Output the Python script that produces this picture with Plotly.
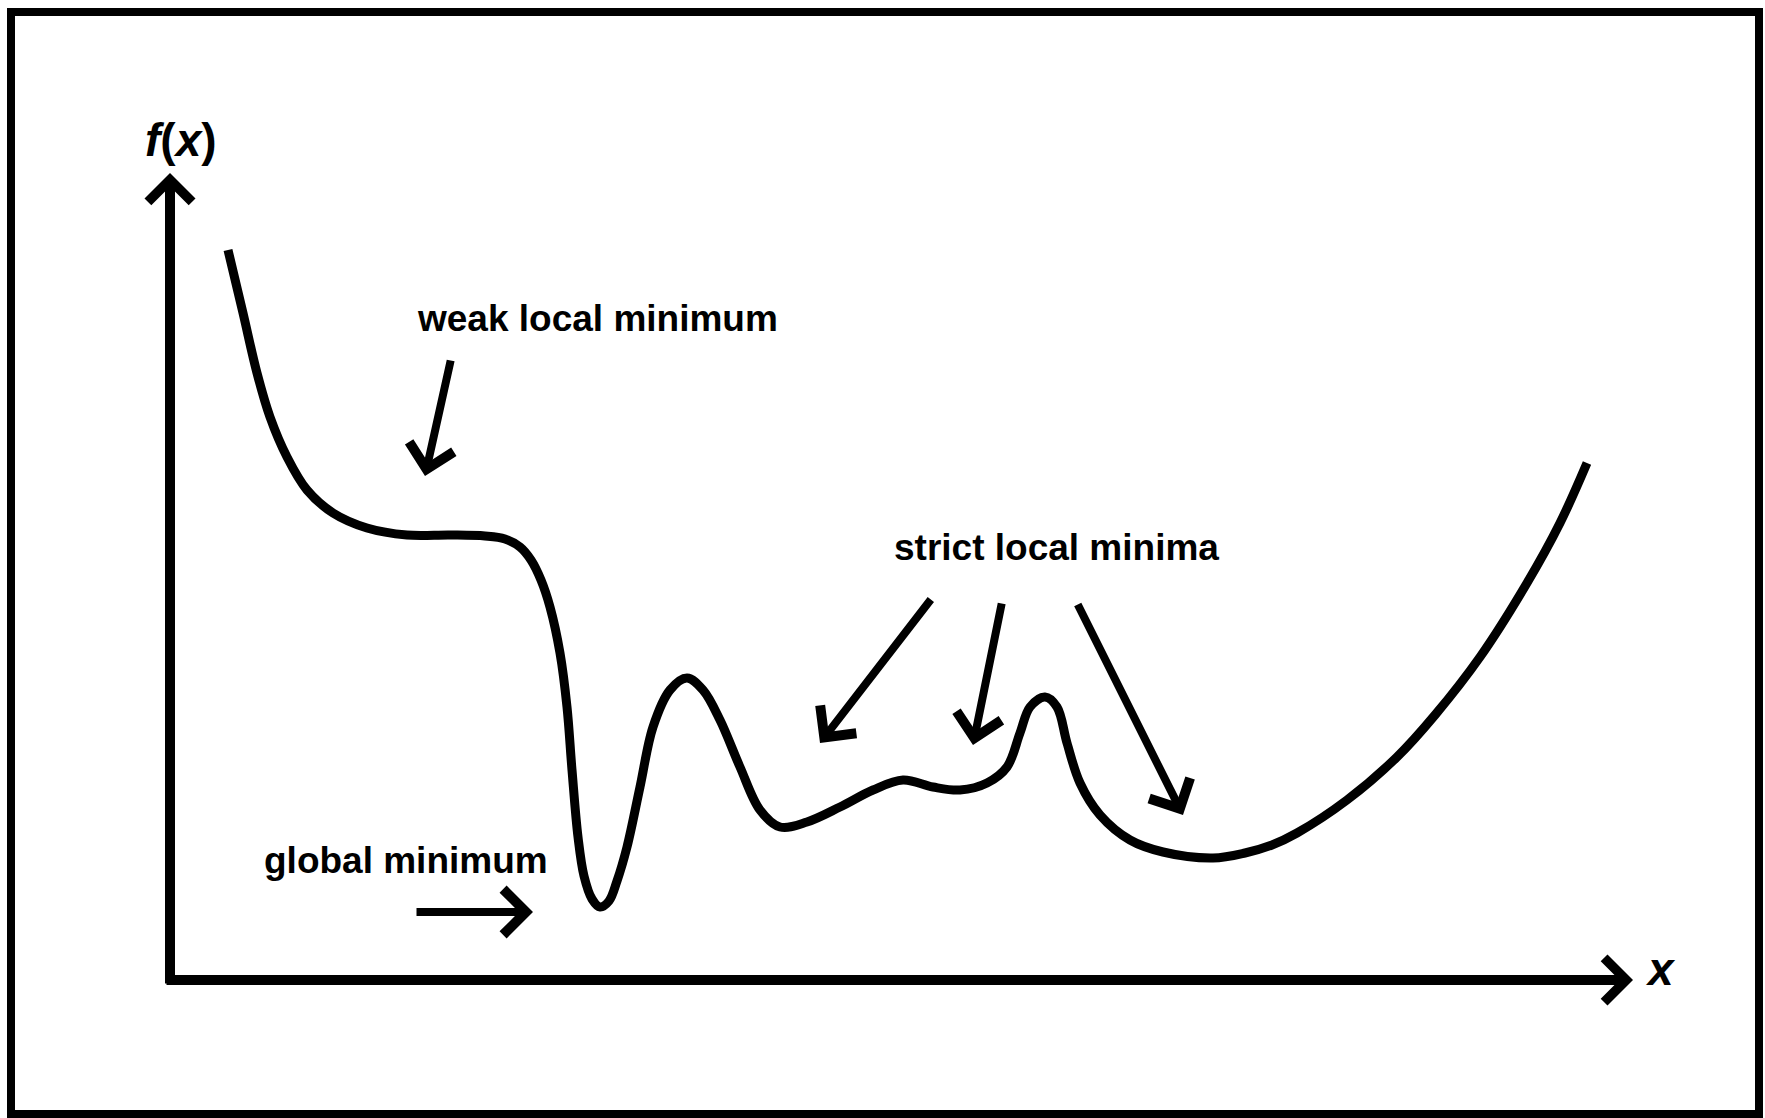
import plotly.graph_objects as go

# curve f(x) (conceptual units: origin at the axes corner)
x_vals = [0.58, 0.73, 0.87, 1.00, 1.17, 1.37, 1.63, 1.97, 2.37, 2.80, 3.15, 3.35, 3.50, 3.61,
          3.71, 3.80, 3.90, 3.97, 4.02, 4.08, 4.14, 4.22, 4.30, 4.39, 4.47, 4.57, 4.70, 4.83,
          5.00, 5.17, 5.33, 5.50, 5.70, 5.90, 6.10, 6.37, 6.70, 7.03, 7.33, 7.63, 7.90, 8.17,
          8.37, 8.50, 8.60, 8.75, 8.87, 8.97, 9.10, 9.30, 9.60, 9.93, 10.43, 10.75, 11.02,
          11.27, 11.77, 12.27, 12.65, 13.10, 13.57, 13.90, 14.17]
f_vals = [7.30, 6.67, 6.07, 5.63, 5.23, 4.90, 4.67, 4.52, 4.45, 4.45, 4.44, 4.41, 4.33, 4.20,
          4.00, 3.73, 3.27, 2.73, 2.10, 1.43, 1.04, 0.81, 0.73, 0.79, 0.99, 1.33, 1.93, 2.53,
          2.90, 3.02, 2.90, 2.60, 2.13, 1.70, 1.53, 1.58, 1.73, 1.90, 2.00, 1.93, 1.90, 1.97,
          2.13, 2.47, 2.73, 2.83, 2.73, 2.37, 1.97, 1.65, 1.40, 1.28, 1.22, 1.27, 1.35,
          1.47, 1.80, 2.23, 2.65, 3.23, 3.97, 4.57, 5.17]

# labels
label_texts = ["weak local minimum", "strict local minima", "global minimum"]
label_pos = [(4.27, 6.62), (8.86, 4.33), (2.36, 1.20)]

# pointer arrows: (tail_x, tail_y, tip_x, tip_y)
pointers = [
    (2.81, 6.21, 2.55, 5.04),
    (2.45, 0.68, 3.63, 0.68),
    (7.62, 3.82, 6.50, 2.37),
    (8.32, 3.78, 8.03, 2.35),
    (9.07, 3.77, 10.13, 1.65),
]
# axis arrows
axes_arrows = [
    (0.0, -0.05, 0.0, 8.07),
    (-0.05, 0.0, 14.63, 0.0),
]

FONT = "Liberation Sans, Arial, Helvetica, sans-serif"

fig = go.Figure()
fig.add_trace(go.Scatter(x=x_vals, y=f_vals, mode="lines",
                         line=dict(color="black", width=9, shape="spline", smoothing=1.0),
                         hoverinfo="skip", showlegend=False))

anns = []
for (tx, ty, hx, hy) in pointers:
    anns.append(dict(x=hx, y=hy, ax=tx, ay=ty, xref="x", yref="y", axref="x", ayref="y",
                     text="", showarrow=True, arrowhead=4, arrowsize=1.1, arrowwidth=8,
                     arrowcolor="black", standoff=0, startstandoff=0))
for (tx, ty, hx, hy) in axes_arrows:
    anns.append(dict(x=hx, y=hy, ax=tx, ay=ty, xref="x", yref="y", axref="x", ayref="y",
                     text="", showarrow=True, arrowhead=4, arrowsize=0.85, arrowwidth=10,
                     arrowcolor="black", standoff=0, startstandoff=0))
for t, (lx, ly) in zip(label_texts, label_pos):
    anns.append(dict(x=lx, y=ly, xref="x", yref="y", text="<b>" + t + "</b>", showarrow=False,
                     xanchor="center", yanchor="middle",
                     font=dict(family=FONT, size=37, color="black")))
anns.append(dict(x=0.11, y=8.40, xref="x", yref="y", text="<b><i>f</i>(<i>x</i>)</b>",
                 showarrow=False, xanchor="center", yanchor="middle",
                 font=dict(family=FONT, size=46, color="black")))
anns.append(dict(x=14.90, y=0.11, xref="x", yref="y", text="<b><i>x</i></b>",
                 showarrow=False, xanchor="center", yanchor="middle",
                 font=dict(family=FONT, size=46, color="black")))

W, H = 1765, 1118
fig.update_layout(
    width=W, height=H,
    margin=dict(l=0, r=0, t=0, b=0),
    paper_bgcolor="white", plot_bgcolor="white",
    xaxis=dict(range=[-1.70, 15.95], visible=False, fixedrange=True),
    yaxis=dict(range=[-1.38, 9.80], visible=False, fixedrange=True),
    annotations=anns,
    shapes=[dict(type="rect", xref="paper", yref="paper",
                 x0=11 / W, x1=1759 / W, y0=1 - 1114 / H, y1=1 - 12 / H,
                 line=dict(color="black", width=8), fillcolor="rgba(0,0,0,0)")],
    showlegend=False,
)

fig.write_html("out.html", config={"displayModeBar": False},
               post_script="document.body.style.margin='0px';document.body.style.overflow='hidden';")
